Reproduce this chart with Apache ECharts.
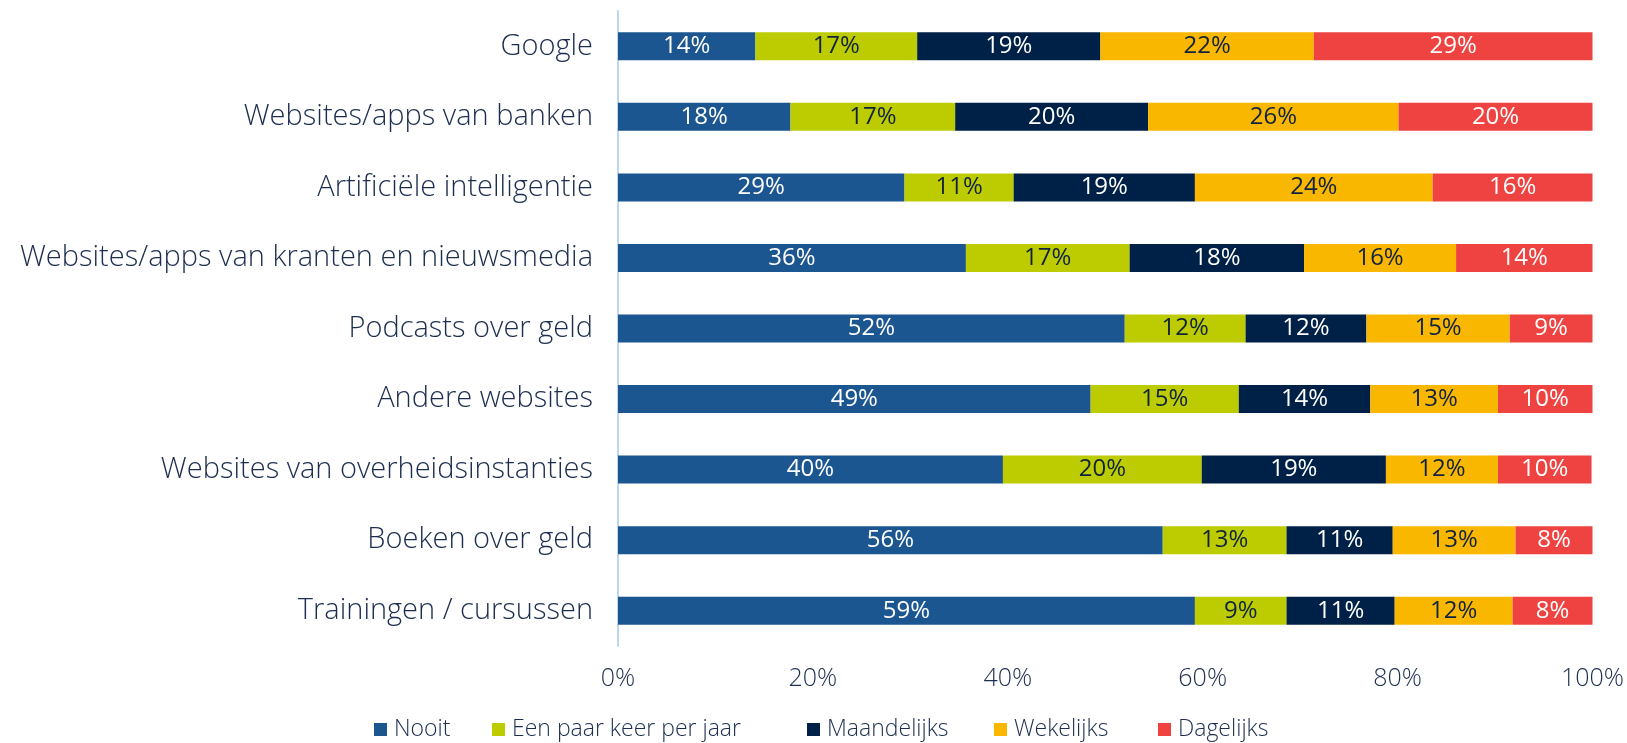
<!DOCTYPE html>
<html>
<head>
<meta charset="utf-8">
<script src="https://cdn.jsdelivr.net/npm/echarts@6/dist/echarts.min.js"></script>
<style>
html,body{margin:0;padding:0;background:#fff;}
#c{width:1627px;height:743px;}
</style>
</head>
<body>
<div id="c"></div>
<script>
var categories = [
  "Google",
  "Websites/apps van banken",
  "Artificiële intelligentie",
  "Websites/apps van kranten en nieuwsmedia",
  "Podcasts over geld",
  "Andere websites",
  "Websites van overheidsinstanties",
  "Boeken over geld",
  "Trainingen / cursussen"
];
var nooit       = [14.1, 17.7, 29.4, 35.7, 52.0, 48.5, 39.5, 55.9, 59.2];
var eenPaar     = [16.6, 16.9, 11.2, 16.8, 12.4, 15.2, 20.4, 12.7, 9.4];
var maandelijks = [18.8, 19.8, 18.6, 17.9, 12.4, 13.5, 18.9, 10.9, 11.1];
var wekelijks   = [21.9, 25.7, 24.4, 15.6, 14.7, 13.1, 11.5, 12.6, 12.1];
var dagelijks   = [28.6, 19.9, 16.4, 14.0, 8.5, 9.7, 9.6, 7.9, 8.2];
var seriesNames = ["Nooit", "Een paar keer per jaar", "Maandelijks", "Wekelijks", "Dagelijks"];
var xTicks = ["0%", "20%", "40%", "60%", "80%", "100%"];

var colors = ["#1B5690", "#BDCC00", "#002147", "#F9B700", "#EE4340"];
var labelColors = ["#ffffff", "#0f2240", "#ffffff", "#0f2240", "#ffffff"];
var legendLeft = [374, 492, 807, 994, 1158];
var FONT = "Open Sans";
var TXT = "#1c2d4f";

var dataSets = [nooit, eenPaar, maandelijks, wekelijks, dagelijks];
var series = dataSets.map(function (d, i) {
  return {
    name: seriesNames[i],
    type: "bar",
    stack: "total",
    barWidth: 28,
    data: d,
    itemStyle: { color: colors[i] },
    label: {
      show: true,
      position: "inside",
      color: labelColors[i],
      fontFamily: FONT,
      fontSize: 24,
      fontWeight: 500,
      formatter: function (p) { return Math.round(p.value) + "%"; }
    }
  };
});

var legends = seriesNames.map(function (n, i) {
  return {
    data: [n],
    left: legendLeft[i],
    top: 717,
    padding: 0,
    icon: "rect",
    itemWidth: 13,
    itemHeight: 13,
    selectedMode: false,
    textStyle: { color: TXT, fontSize: 23, fontWeight: 300, fontFamily: FONT, lineHeight: 25, padding: [0, 0, 0, 2] }
  };
});

var chart = echarts.init(document.getElementById("c"));
chart.setOption({
  backgroundColor: "#ffffff",
  animation: false,
  textStyle: { fontFamily: FONT },
  grid: { left: 618, right: 34, top: 11, bottom: 97, containLabel: false },
  legend: legends,
  xAxis: {
    type: "value",
    min: 0,
    max: 100,
    interval: 20,
    axisLine: { show: false },
    axisTick: { show: false },
    splitLine: { show: false },
    axisLabel: {
      color: TXT,
      fontSize: 25,
      fontWeight: 300,
      fontFamily: FONT,
      margin: 20,
      formatter: function (v) { return xTicks[Math.round(v / 20)]; }
    }
  },
  yAxis: {
    type: "category",
    inverse: true,
    data: categories,
    axisLine: { show: true, lineStyle: { color: "#BDD7EE", width: 2 } },
    axisTick: { show: false },
    axisLabel: { color: TXT, fontSize: 29, fontWeight: 300, fontFamily: FONT, margin: 25 }
  },
  series: series
});
</script>
</body>
</html>
